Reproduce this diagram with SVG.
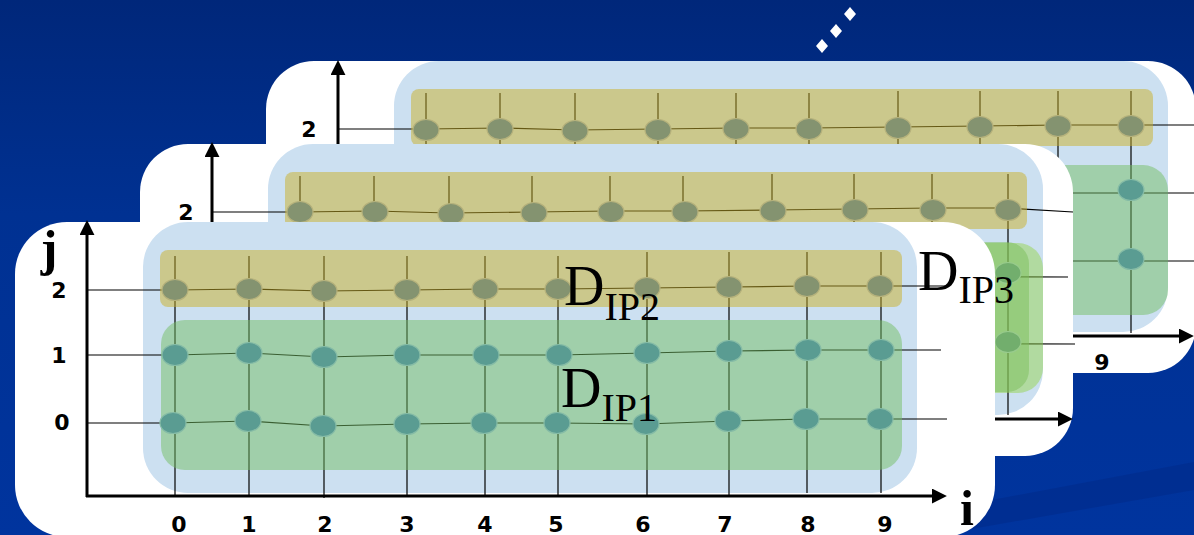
<svg xmlns="http://www.w3.org/2000/svg" width="1194" height="535" viewBox="0 0 1194 535">
<style>
.card{fill:#ffffff}
.blue{fill:#CCE0F1}
.yb{fill:rgb(202,176,39);fill-opacity:.5}
.gb{fill:rgb(116,190,99);fill-opacity:.5}
.gl{fill:rgb(150,212,79);fill-opacity:.5}
.gd{fill:rgb(123,190,90);fill-opacity:.5}
.ln{stroke:#000;stroke-width:1.2;fill:none}
.axis{stroke:#000;stroke-width:3;fill:none}
.ny{fill:#849370;stroke:#B6B27C;stroke-width:1.2}
.nt{fill:#5A9C92;stroke:#86BCA6;stroke-width:1.2}
.ng{fill:#72AE6D;stroke:#98CB8C;stroke-width:1.2}
.dig{font-family:"DejaVu Sans","Liberation Sans",sans-serif;font-weight:bold;font-size:22px;text-anchor:middle;fill:#000}
.axl{font-family:"Liberation Serif",serif;font-weight:bold;font-size:50px;text-anchor:middle;fill:#000}
.dl{font-family:"Liberation Serif",serif;font-size:56px;fill:#000}
</style>
<defs>
<linearGradient id="bg" x1="0" y1="0" x2="0" y2="1">
<stop offset="0" stop-color="#00277A"/>
<stop offset="0.4" stop-color="#003192"/>
<stop offset="1" stop-color="#00349E"/>
</linearGradient>
<marker id="ah" viewBox="0 0 10 10" refX="1.4" refY="5" markerWidth="15" markerHeight="15" markerUnits="userSpaceOnUse" orient="auto">
<path d="M0,0 L10,5 L0,10 Z" fill="#000"/>
</marker>
</defs>

<g id="background">
<rect x="0" y="0" width="1194" height="535" fill="url(#bg)"/>
<polygon points="960,506 1194,462 1194,490 960,531" fill="#002C8A" fill-opacity="0.6"/>
<polygon points="822,39 828,46 822,53 816,46" fill="#fff"/>
<polygon points="836,24 842,31 836,38 830,31" fill="#fff"/>
<polygon points="850,7 856,14 850,21 844,14" fill="#fff"/>
</g>

<!-- BACK LAYER -->
<g id="layer-back" transform="translate(251,-161)">
<rect class="card" x="15" y="222" width="930" height="312" rx="48"/>
<rect class="blue" x="143" y="222" width="774" height="271" rx="45"/>
<g id="back-connectors">
<line class="axis" x1="87" y1="497" x2="87" y2="234" marker-end="url(#ah)"/>
<line class="axis" x1="86" y1="497" x2="930" y2="497" marker-end="url(#ah)"/>
<polyline class="ln" points="87,290 175,290 249,289 324,291 407,290 485,289 558,289 647,288 729,287 807,286 880,286 950,286"/>
<line class="ln" x1="87" y1="354" x2="950" y2="354"/>
<line class="ln" x1="87" y1="422" x2="950" y2="422"/>
<line class="ln" x1="175" y1="254" x2="175" y2="497"/>
<line class="ln" x1="249" y1="254" x2="249" y2="497"/>
<line class="ln" x1="324" y1="254" x2="324" y2="497"/>
<line class="ln" x1="407" y1="254" x2="407" y2="497"/>
<line class="ln" x1="485" y1="254" x2="485" y2="497"/>
<line class="ln" x1="558" y1="254" x2="558" y2="497"/>
<line class="ln" x1="647" y1="252" x2="647" y2="497"/>
<line class="ln" x1="729" y1="252" x2="729" y2="497"/>
<line class="ln" x1="807" y1="252" x2="807" y2="497"/>
<line class="ln" x1="880" y1="252" x2="880" y2="494"/>
</g>
<rect class="yb" x="160" y="250" width="742" height="57" rx="8"/>
<rect class="gb" x="160" y="326" width="757" height="150" rx="25"/>
<g id="b2-0"><ellipse class="ny" cx="175" cy="291" rx="13" ry="10.5"/></g>
<g id="b2-1"><ellipse class="ny" cx="249" cy="290" rx="13" ry="10.5"/></g>
<g id="b2-2"><ellipse class="ny" cx="324" cy="292" rx="13" ry="10.5"/></g>
<g id="b2-3"><ellipse class="ny" cx="407" cy="291" rx="13" ry="10.5"/></g>
<g id="b2-4"><ellipse class="ny" cx="485" cy="290" rx="13" ry="10.5"/></g>
<g id="b2-5"><ellipse class="ny" cx="558" cy="290" rx="13" ry="10.5"/></g>
<g id="b2-6"><ellipse class="ny" cx="647" cy="289" rx="13" ry="10.5"/></g>
<g id="b2-7"><ellipse class="ny" cx="729" cy="288" rx="13" ry="10.5"/></g>
<g id="b2-8"><ellipse class="ny" cx="807" cy="287" rx="13" ry="10.5"/></g>
<g id="b2-9"><ellipse class="ny" cx="880" cy="287" rx="13" ry="10.5"/></g>
<g id="b1-9"><ellipse class="nt" cx="880" cy="351" rx="13" ry="10.5"/></g>
<g id="b0-9"><ellipse class="nt" cx="880" cy="420" rx="13" ry="10.5"/></g>
<text class="dig" x="58" y="298">2</text>
<text class="dig" x="851" y="531">9</text>
</g>

<!-- MIDDLE LAYER -->
<g id="layer-middle" transform="translate(125,-78)">
<rect class="card" x="15" y="222" width="933" height="312" rx="48"/>
<rect class="blue" x="143" y="222" width="775" height="271" rx="45"/>
<g id="middle-connectors">
<line class="axis" x1="87" y1="497" x2="87" y2="233" marker-end="url(#ah)"/>
<line class="axis" x1="86" y1="497" x2="935" y2="497" marker-end="url(#ah)"/>
<polyline class="ln" points="87,290 175,290 249,289 324,291 407,290 485,289 558,289 647,288 729,287 807,286 881,286 948,290"/>
<line class="ln" x1="87" y1="354" x2="943" y2="355"/>
<line class="ln" x1="87" y1="421" x2="950" y2="422"/>
<line class="ln" x1="175" y1="254" x2="175" y2="497"/>
<line class="ln" x1="249" y1="254" x2="249" y2="497"/>
<line class="ln" x1="324" y1="254" x2="324" y2="497"/>
<line class="ln" x1="407" y1="254" x2="407" y2="497"/>
<line class="ln" x1="485" y1="254" x2="485" y2="497"/>
<line class="ln" x1="558" y1="254" x2="558" y2="497"/>
<line class="ln" x1="647" y1="252" x2="647" y2="497"/>
<line class="ln" x1="729" y1="252" x2="729" y2="497"/>
<line class="ln" x1="807" y1="252" x2="807" y2="497"/>
<line class="ln" x1="883" y1="252" x2="883" y2="493"/>
</g>
<rect class="yb" x="160" y="250" width="742" height="57" rx="8"/>
<rect class="gl" x="161" y="321" width="757" height="150" rx="25"/>
<rect class="gd" x="161" y="320" width="743" height="150" rx="22"/>
<g id="m2-0"><ellipse class="ny" cx="175" cy="290" rx="13" ry="10.5"/></g>
<g id="m2-1"><ellipse class="ny" cx="250" cy="290" rx="13" ry="10.5"/></g>
<g id="m2-2"><ellipse class="ny" cx="326" cy="292" rx="13" ry="10.5"/></g>
<g id="m2-3"><ellipse class="ny" cx="409" cy="291" rx="13" ry="10.5"/></g>
<g id="m2-4"><ellipse class="ny" cx="486" cy="290" rx="13" ry="10.5"/></g>
<g id="m2-5"><ellipse class="ny" cx="560" cy="290" rx="13" ry="10.5"/></g>
<g id="m2-6"><ellipse class="ny" cx="648" cy="289" rx="13" ry="10.5"/></g>
<g id="m2-7"><ellipse class="ny" cx="730" cy="288" rx="13" ry="10.5"/></g>
<g id="m2-8"><ellipse class="ny" cx="808" cy="288" rx="13" ry="10.5"/></g>
<g id="m2-9"><ellipse class="ny" cx="883" cy="288" rx="13" ry="10.5"/></g>
<g id="m1-9"><ellipse class="ng" cx="883" cy="351" rx="13" ry="10.5"/></g>
<g id="m0-9"><ellipse class="ng" cx="883" cy="420" rx="13" ry="10.5"/></g>
<text class="dig" x="61" y="298">2</text>
</g>

<!-- FRONT LAYER -->
<g id="layer-front">
<rect class="card" x="15" y="222" width="980" height="315" rx="52"/>
<rect class="blue" x="143" y="222" width="774" height="271" rx="45"/>
<g id="front-connectors">
<line class="axis" x1="87" y1="497" x2="87" y2="233" marker-end="url(#ah)"/>
<line class="axis" x1="86" y1="496" x2="934" y2="496" marker-end="url(#ah)"/>
<polyline class="ln" points="87,290 175,290 249,289 324,291 407,290 485,289 558,289 647,288 729,287 807,286 880,286 947,286"/>
<polyline class="ln" points="87,355 175,355 249,353 324,357 407,355 486,355 559,355 647,353 729,351 808,350 881,350 941,350"/>
<polyline class="ln" points="87,423 173,423 248,421 323,426 407,424 484,423 557,423 646,424 728,421 806,419 880,419 947,419"/>
<line class="ln" x1="175" y1="256" x2="175" y2="497"/>
<line class="ln" x1="249" y1="256" x2="249" y2="497"/>
<line class="ln" x1="324" y1="256" x2="324" y2="498"/>
<line class="ln" x1="407" y1="256" x2="407" y2="497"/>
<line class="ln" x1="485" y1="256" x2="485" y2="497"/>
<line class="ln" x1="558" y1="256" x2="558" y2="497"/>
<line class="ln" x1="647" y1="252" x2="647" y2="495"/>
<line class="ln" x1="729" y1="252" x2="729" y2="495"/>
<line class="ln" x1="807" y1="252" x2="807" y2="493"/>
<line class="ln" x1="881" y1="252" x2="881" y2="493"/>
</g>
<rect class="yb" x="160" y="250" width="742" height="57" rx="8"/>
<rect class="gb" x="161" y="320" width="741" height="150" rx="24"/>
<g id="f2-0"><ellipse class="ny" cx="175" cy="290" rx="13" ry="10.5"/></g>
<g id="f2-1"><ellipse class="ny" cx="249" cy="289" rx="13" ry="10.5"/></g>
<g id="f2-2"><ellipse class="ny" cx="324" cy="291" rx="13" ry="10.5"/></g>
<g id="f2-3"><ellipse class="ny" cx="407" cy="290" rx="13" ry="10.5"/></g>
<g id="f2-4"><ellipse class="ny" cx="485" cy="289" rx="13" ry="10.5"/></g>
<g id="f2-5"><ellipse class="ny" cx="558" cy="289" rx="13" ry="10.5"/></g>
<g id="f2-6"><ellipse class="ny" cx="647" cy="288" rx="13" ry="10.5"/></g>
<g id="f2-7"><ellipse class="ny" cx="729" cy="287" rx="13" ry="10.5"/></g>
<g id="f2-8"><ellipse class="ny" cx="807" cy="286" rx="13" ry="10.5"/></g>
<g id="f2-9"><ellipse class="ny" cx="880" cy="286" rx="13" ry="10.5"/></g>
<g id="f1-0"><ellipse class="nt" cx="175" cy="355" rx="13" ry="10.5"/></g>
<g id="f1-1"><ellipse class="nt" cx="249" cy="353" rx="13" ry="10.5"/></g>
<g id="f1-2"><ellipse class="nt" cx="324" cy="357" rx="13" ry="10.5"/></g>
<g id="f1-3"><ellipse class="nt" cx="407" cy="355" rx="13" ry="10.5"/></g>
<g id="f1-4"><ellipse class="nt" cx="486" cy="355" rx="13" ry="10.5"/></g>
<g id="f1-5"><ellipse class="nt" cx="559" cy="355" rx="13" ry="10.5"/></g>
<g id="f1-6"><ellipse class="nt" cx="647" cy="353" rx="13" ry="10.5"/></g>
<g id="f1-7"><ellipse class="nt" cx="729" cy="351" rx="13" ry="10.5"/></g>
<g id="f1-8"><ellipse class="nt" cx="808" cy="350" rx="13" ry="10.5"/></g>
<g id="f1-9"><ellipse class="nt" cx="881" cy="350" rx="13" ry="10.5"/></g>
<g id="f0-0"><ellipse class="nt" cx="173" cy="423" rx="13" ry="10.5"/></g>
<g id="f0-1"><ellipse class="nt" cx="248" cy="421" rx="13" ry="10.5"/></g>
<g id="f0-2"><ellipse class="nt" cx="323" cy="426" rx="13" ry="10.5"/></g>
<g id="f0-3"><ellipse class="nt" cx="407" cy="424" rx="13" ry="10.5"/></g>
<g id="f0-4"><ellipse class="nt" cx="484" cy="423" rx="13" ry="10.5"/></g>
<g id="f0-5"><ellipse class="nt" cx="557" cy="423" rx="13" ry="10.5"/></g>
<g id="f0-6"><ellipse class="nt" cx="646" cy="424" rx="13" ry="10.5"/></g>
<g id="f0-7"><ellipse class="nt" cx="728" cy="421" rx="13" ry="10.5"/></g>
<g id="f0-8"><ellipse class="nt" cx="806" cy="419" rx="13" ry="10.5"/></g>
<g id="f0-9"><ellipse class="nt" cx="880" cy="419" rx="13" ry="10.5"/></g>
<text class="axl" x="49" y="265">j</text>
<text class="axl" x="967" y="525">i</text>
<text class="dig" x="59" y="298">2</text>
<text class="dig" x="59" y="363">1</text>
<text class="dig" x="62" y="430">0</text>
<text class="dig" x="179" y="532">0</text>
<text class="dig" x="249" y="532">1</text>
<text class="dig" x="325" y="532">2</text>
<text class="dig" x="407" y="532">3</text>
<text class="dig" x="485" y="532">4</text>
<text class="dig" x="556" y="532">5</text>
<text class="dig" x="643" y="532">6</text>
<text class="dig" x="725" y="532">7</text>
<text class="dig" x="808" y="532">8</text>
<text class="dig" x="885" y="532">9</text>
<text class="dl" x="564" y="305">D<tspan font-size="40" dy="15">IP2</tspan></text>
<text class="dl" x="561" y="407">D<tspan font-size="40" dy="14">IP1</tspan></text>
<text class="dl" x="918" y="290">D<tspan font-size="40" dy="13">IP3</tspan></text>
</g>
</svg>
